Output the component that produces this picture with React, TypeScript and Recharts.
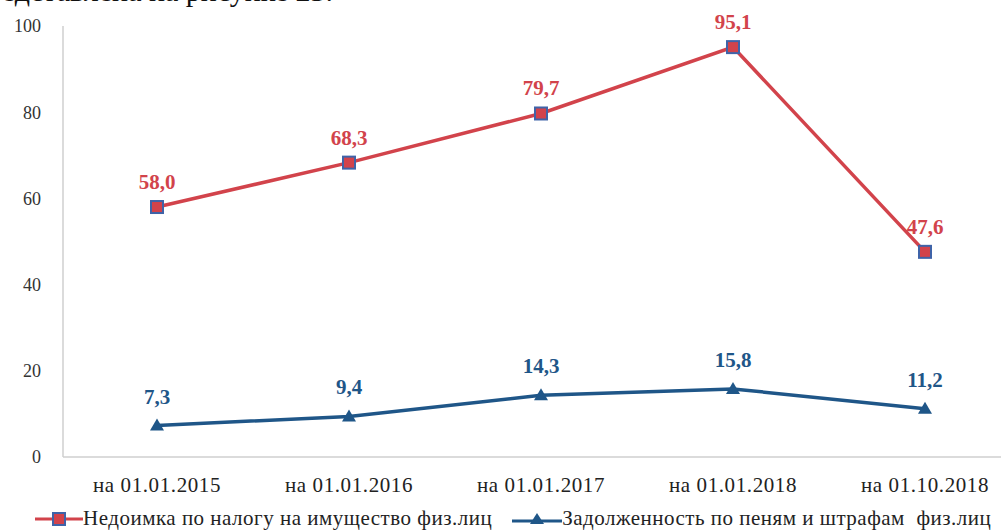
import { LabelList, Legend, Line, LineChart, XAxis, YAxis } from "recharts";

const dates = ["на 01.01.2015", "на 01.01.2016", "на 01.01.2017", "на 01.01.2018", "на 01.10.2018"];
const arrears = [58.0, 68.3, 79.7, 95.1, 47.6];
const penalties = [7.3, 9.4, 14.3, 15.8, 11.2];
const yTicks = [0, 20, 40, 60, 80, 100];

const RED = "#d2434b";
const BLUE = "#1f5688";
const SERIF = '"Times New Roman", "Liberation Serif", serif';

const data = dates.map((d, i) => ({ name: d, arrears: arrears[i], penalties: penalties[i] }));

const fmt = (v: number) => v.toFixed(1).replace(".", ",");

function SquareDot(props: any) {
  const { cx, cy } = props;
  if (cx == null || cy == null) return null;
  return (
    <g>
      <rect x={cx - 7} y={cy - 7} width={14} height={14} fill="#3f63a8" />
      <rect x={cx - 5} y={cy - 5} width={10} height={10} fill={RED} />
    </g>
  );
}

function TriDot(props: any) {
  const { cx, cy } = props;
  if (cx == null || cy == null) return null;
  return <path d={`M${cx},${cy - 7} L${cx + 7},${cy + 5} L${cx - 7},${cy + 5} Z`} fill={BLUE} />;
}

function LegendBox() {
  return (
    <div
      style={{
        display: "flex",
        alignItems: "center",
        fontFamily: SERIF,
        fontSize: 21,
        letterSpacing: 0.5,
        color: "#222",
        paddingLeft: 35,
        paddingTop: 14,
        whiteSpace: "nowrap",
      }}
    >
      <svg width={48} height={14}>
        <line x1={0} y1={7} x2={48} y2={7} stroke={RED} strokeWidth={3} />
        <rect x={17} y={0} width={14} height={14} fill="#3f63a8" />
        <rect x={19} y={2} width={10} height={10} fill={RED} />
      </svg>
      <span style={{ marginRight: 20 }}>Недоимка по налогу на имущество физ.лиц</span>
      <svg width={50} height={14}>
        <line x1={0} y1={9} x2={50} y2={9} stroke={BLUE} strokeWidth={3} />
        <path d="M25,1 L32,12 L18,12 Z" fill={BLUE} />
      </svg>
      <span>Задолженность по пеням и штрафам&nbsp; физ.лиц</span>
    </div>
  );
}

export default function App() {
  return (
    <div style={{ position: "absolute", left: 0, top: 0, width: 1001, height: 532, overflow: "hidden", background: "#fff" }}>
      <div
        style={{
          position: "absolute",
          right: 668,
          top: -24,
          fontFamily: SERIF,
          fontSize: 30,
          lineHeight: "30px",
          whiteSpace: "nowrap",
          color: "#111",
        }}
      >
        которых представлена на рисунке 23.
      </div>
      <LineChart width={1001} height={532} data={data} margin={{ top: 26, right: 0, bottom: 0, left: 0 }}>
        <XAxis
          dataKey="name"
          height={35}
          padding={{ left: 94, right: 76 }}
          axisLine={{ stroke: "#cfcfcf", strokeWidth: 1.5 }}
          tickLine={false}
          tickSize={0}
          tickMargin={20}
          tick={{ fontFamily: SERIF, fontSize: 21, fill: "#222", letterSpacing: 0.6 }}
        />
        <YAxis
          width={63}
          domain={[0, 100]}
          ticks={yTicks}
          axisLine={{ stroke: "#cfcfcf", strokeWidth: 1.5 }}
          tickLine={false}
          tickSize={0}
          tickMargin={22}
          tick={{ fontFamily: SERIF, fontSize: 18, fill: "#333" }}
        />
        <Legend verticalAlign="bottom" height={40} content={<LegendBox />} />
        <Line
          dataKey="arrears"
          stroke={RED}
          strokeWidth={3.5}
          dot={<SquareDot />}
          activeDot={false}
          isAnimationActive={false}
        >
          <LabelList
            dataKey="arrears"
            position="top"
            offset={18}
            formatter={(v: any) => fmt(Number(v))}
            style={{ fontFamily: SERIF, fontSize: 21, fontWeight: "bold", fill: RED }}
          />
        </Line>
        <Line
          dataKey="penalties"
          stroke={BLUE}
          strokeWidth={3.5}
          dot={<TriDot />}
          activeDot={false}
          isAnimationActive={false}
        >
          <LabelList
            dataKey="penalties"
            position="top"
            offset={22}
            formatter={(v: any) => fmt(Number(v))}
            style={{ fontFamily: SERIF, fontSize: 21, fontWeight: "bold", fill: BLUE }}
          />
        </Line>
      </LineChart>
    </div>
  );
}
